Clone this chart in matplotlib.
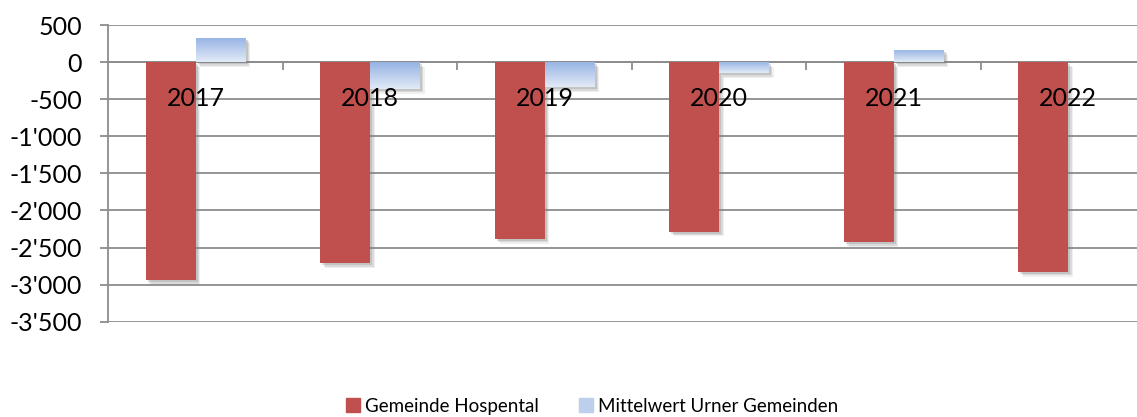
import numpy as np
import matplotlib
matplotlib.use("Agg")
import matplotlib.pyplot as plt
import matplotlib.patheffects as pe
from matplotlib.ticker import FuncFormatter

plt.rcParams['font.family'] = ['Lato', 'DejaVu Sans']

years = ['2017', '2018', '2019', '2020', '2021', '2022']
hospental = [-2940, -2710, -2380, -2285, -2430, -2825]
mittelwert = [325, -360, -340, -150, 165, 0]
series_names = ['Gemeinde Hospental', 'Mittelwert Urner Gemeinden']

red = '#c0504d'
blue_top = np.array([0x95, 0xb3, 0xe3]) / 255
blue_bot = np.array([0xe2, 0xea, 0xf7]) / 255

fig = plt.figure(figsize=(11.37, 4.17), dpi=100)
ax = fig.add_axes([108.3 / 1137, 0.2285, 1047 / 1137, 0.7115])

x = np.arange(len(years))
w = 0.286
# soft drop shadow, built from a few faint offset copies
shadow = [pe.SimplePatchShadow(offset=(3.5, -3.5), shadow_rgbFace='#808080', alpha=0.12),
          pe.SimplePatchShadow(offset=(2.5, -2.5), shadow_rgbFace='#808080', alpha=0.18),
          pe.SimplePatchShadow(offset=(1.5, -1.5), shadow_rgbFace='#808080', alpha=0.25),
          pe.Normal()]

rb = ax.bar(x - w / 2, hospental, w, color=red, zorder=3, path_effects=shadow)
bb = ax.bar(x + w / 2, mittelwert, w, color=blue_top, zorder=3, path_effects=shadow)

# vertical gradient fill for the blue bars
grad = np.linspace(0, 1, 64)[:, None, None]
grad_img = blue_top * (1 - grad) + blue_bot * grad
for p in bb:
    h = p.get_height()
    if h == 0:
        continue
    x0 = p.get_x()
    y0, y1 = sorted([p.get_y(), p.get_y() + h])
    im = ax.imshow(grad_img, extent=[x0, x0 + p.get_width(), y0, y1],
                   aspect='auto', origin='upper', zorder=3.5, interpolation='bilinear')
    im.set_clip_path(p)

ax.set_xlim(-0.5, len(years) - 0.5)
ax.set_ylim(-3500, 500)
ax.set_yticks(np.arange(-3500, 501, 500))
ax.yaxis.set_major_formatter(FuncFormatter(lambda v, _: f"{int(v):,}".replace(',', "'")))
ax.grid(axis='y', color='#8c8c8c', linewidth=1.3, zorder=0)
ax.set_axisbelow(True)

ax.spines['top'].set_visible(False)
ax.spines['right'].set_visible(False)
ax.spines['left'].set_color('#8c8c8c')
ax.spines['left'].set_linewidth(1.3)
ax.spines['bottom'].set_position(('data', 0))
ax.spines['bottom'].set_color('#8c8c8c')
ax.spines['bottom'].set_linewidth(1.3)

ax.set_xticks(np.arange(0.5, len(years) - 0.5, 1))
ax.set_xticklabels([])
ax.tick_params(axis='x', length=6, width=1.3, color='#8c8c8c', direction='out')
ax.tick_params(axis='y', length=6, width=1.3, color='#8c8c8c', pad=13, labelsize=18)

for xi, yr in zip(x, years):
    ax.text(xi, -490, yr, ha='center', va='center', fontsize=18, zorder=5)

handles = [plt.Rectangle((0, 0), 1, 1, color=red),
           plt.Rectangle((0, 0), 1, 1, color=(blue_top + blue_bot) / 2)]
fig.legend(handles, series_names, loc='center', bbox_to_anchor=(592 / 1137, 0.026),
           ncol=2, frameon=False, fontsize=13.5, handlelength=0.75, handleheight=0.75,
           handletextpad=0.3, columnspacing=2.1)

fig.savefig('out.png', dpi=100)
